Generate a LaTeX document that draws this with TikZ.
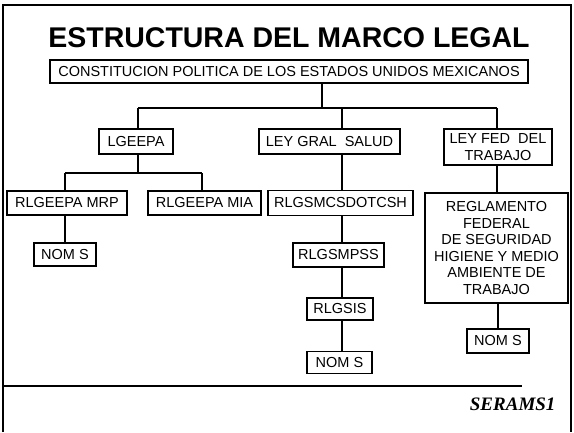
\documentclass[tikz,border=0pt]{standalone}
\usepackage{fontspec}
\setmainfont{Liberation Sans}
\newfontfamily\serafont{Liberation Serif}
\tikzset{ b/.style = { rectangle
                       , draw
                       , line width     = 1.4pt
                       , inner sep      = 0pt
                       , minimum height = 24pt
                       , align          = center
                       , font           = \fontsize{14.5}{16.5}\selectfont
                       },
          link/.style = { line width = 1.4pt
                        }
        }

\begin{document}
\begin{tikzpicture}[x=1pt, y=-1pt]
    \useasboundingbox (0,0) rectangle (574,432);
    % marco de la hoja
    \draw[link] (3,432) -- (3,5) -- (571,5) -- (571,432);
    \draw[link] (3,386) -- (522,386);
    \node[anchor=base, font=\bfseries\fontsize{28.5}{30}\selectfont] (titulo) at (289,47) {ESTRUCTURA DEL MARCO LEGAL};
    \node[b, minimum width=478pt, minimum height=23pt] (cpeum) at (289,71.5) {CONSTITUCION POLITICA DE LOS ESTADOS UNIDOS MEXICANOS};
    % primer nivel
    \node[b, minimum width=74pt, minimum height=25pt] (lgeepa) at (136,141.5) {LGEEPA};
    \node[b, minimum width=141pt, minimum height=25pt] (lgs) at (329.5,141.5) {LEY GRAL\ \ SALUD};
    \node[b, minimum width=108pt, minimum height=36pt] (lfdt) at (498,147) {LEY FED\ \ DEL\\TRABAJO};
    % segundo nivel
    \node[b, minimum width=120pt] (mrp) at (67,203) {RLGEEPA MRP};
    \node[b, minimum width=113pt] (mia) at (204.5,203) {RLGEEPA MIA};
    \node[b, minimum width=145pt, minimum height=25pt] (csh) at (340.5,203) {RLGSMCSDOTCSH};
    \node[b, minimum width=143pt, minimum height=110pt] (rfst) at (496.5,248) {REGLAMENTO\\FEDERAL\\DE SEGURIDAD\\HIGIENE Y MEDIO\\AMBIENTE DE\\TRABAJO};
    % niveles inferiores
    \node[b, minimum width=62pt, minimum height=23pt] (noms1) at (65,254.5) {NOM S};
    \node[b, minimum width=91pt] (mpss) at (338.5,255) {RLGSMPSS};
    \node[b, minimum width=66pt, minimum height=22pt] (sis) at (340,309) {RLGSIS};
    \node[b, minimum width=65pt, minimum height=22pt] (noms2) at (339.5,362.5) {NOM S};
    \node[b, minimum width=62pt] (noms3) at (498,341) {NOM S};
    \node[anchor=base east, font=\serafont\bfseries\itshape\fontsize{19}{20}\selectfont] (sello) at (559,410) {SERAMS1};

    % ramas
    \coordinate (f0) at (322,108);
    \coordinate (f1) at (138,108);
    \coordinate (f2) at (342,108);
    \coordinate (f3) at (497,108);
    \draw[link] (cpeum.south -| f0) -- (f0);
    \draw[link] (f1) -- (f3);
    \draw[link] (f1) -- (f1 |- lgeepa.north);
    \draw[link] (f2) -- (f2 |- lgs.north);
    \draw[link] (f3) -- (f3 |- lfdt.north);
    \coordinate (g0) at (138,173);
    \coordinate (g1) at (65,173);
    \coordinate (g2) at (202,173);
    \draw[link] (lgeepa.south -| g0) -- (g0);
    \draw[link] (g1) -- (g2);
    \draw[link] (g1) -- (g1 |- mrp.north);
    \draw[link] (g2) -- (g2 |- mia.north);
    \draw[link] (mrp.south -| noms1.north) -- (noms1.north);
    \draw[link] (lgs.south -| f2) -- (csh.north -| f2);
    \draw[link] (csh.south -| f2) -- (mpss.north -| f2);
    \draw[link] (mpss.south -| f2) -- (sis.north -| f2);
    \draw[link] (sis.south -| f2) -- (noms2.north -| f2);
    \draw[link] (lfdt.south -| f3) -- (rfst.north -| f3);
    \draw[link] (rfst.south -| noms3.north) -- (noms3.north);
\end{tikzpicture}
\end{document}
